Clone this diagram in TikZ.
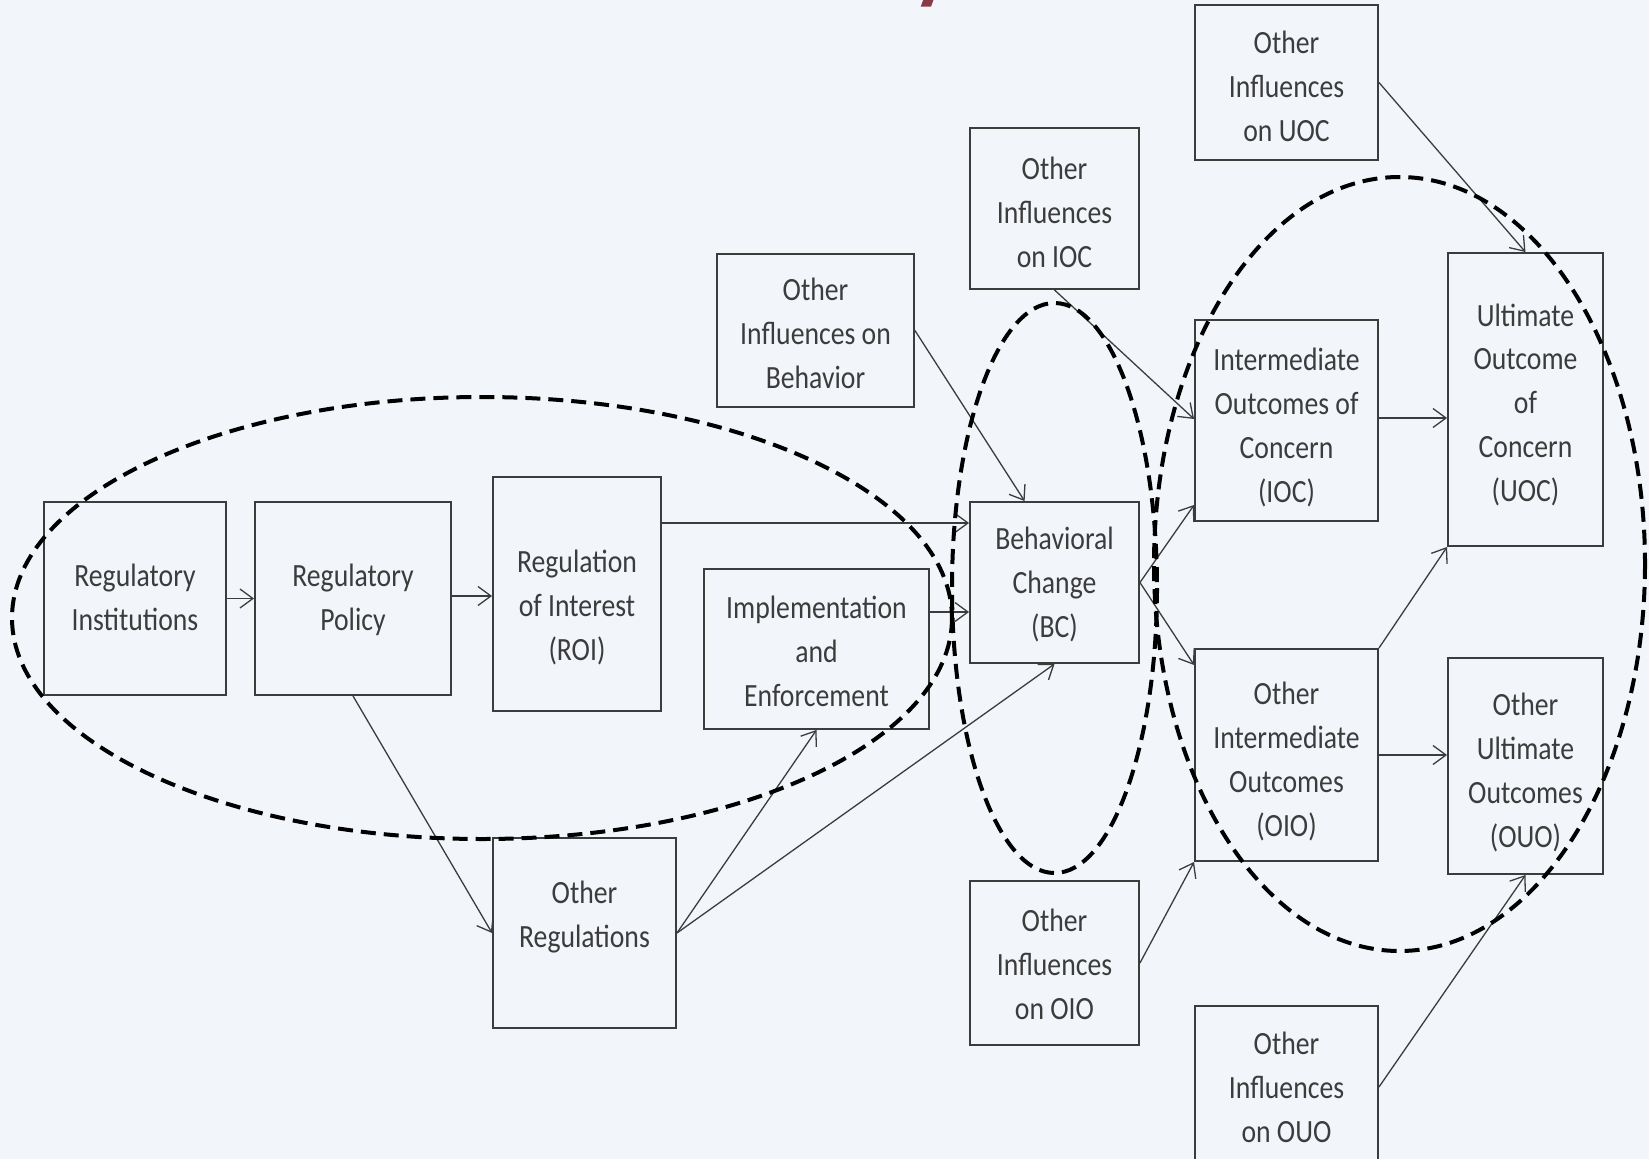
\documentclass[tikz,border=0pt]{standalone}
\usepackage{fontspec}
\setmainfont{Carlito}
\usepackage{graphicx}
\usetikzlibrary{arrows.meta,calc}
\definecolor{bg}{HTML}{F2F6FB}
\definecolor{ink}{HTML}{3C3C3C}
\definecolor{titlered}{HTML}{873A48}
\newcommand{\bxt}[2][5.5pt]{\raisebox{-#1}[\height][\depth]{\scalebox{1}[1.17]{\begin{tabular}{@{}c@{}}#2\end{tabular}}}}
\tikzset{
 box/.style={draw=ink, line width=1.9pt, rectangle, inner sep=0pt, text=ink, font=\fontsize{27.7}{37.5}\selectfont},
 conn/.style={draw=ink, line width=1.3pt, -{Straight Barb[length=13pt,width=19pt,line width=1.3pt]}},
 group/.style={draw=black, line width=4pt, dash pattern=on 15pt off 8pt},
}
\begin{document}
\begin{tikzpicture}[x=1pt,y=-1pt]
\fill[bg] (0,0) rectangle (1649,1159);
\useasboundingbox (0,0) rectangle (1649,1159);
\clip (0,0) rectangle (1649,1159);

% fragment of a cut-off title
\fill[titlered] (920.7,6.7) -- (923.5,-1) -- (933.8,-1) -- (931,6.7) -- cycle;

% boxes
\node[box, minimum width=182pt, minimum height=193pt] (ri) at (135,598.5) {\bxt[1pt]{Regulatory\\Institutions}};
\node[box, minimum width=196pt, minimum height=193pt] (rp) at (353,598.5) {\bxt[1pt]{Regulatory\\Policy}};
\node[box, minimum width=168pt, minimum height=234pt] (roi) at (577,594) {\bxt[13.5pt]{Regulation\\of Interest\\(ROI)}};
\node[box, minimum width=225pt, minimum height=160pt] (ie) at (816.5,649) {\bxt[4.5pt]{Implementation\\and\\Enforcement}};
\node[box, minimum width=197pt, minimum height=153pt] (oib) at (815.5,330.5) {\bxt{Other\\Influences on\\Behavior}};
\node[box, minimum width=169pt, minimum height=161pt] (oiioc) at (1054.5,208.5) {\bxt[6pt]{Other\\Influences\\on IOC}};
\node[box, minimum width=169pt, minimum height=161pt] (bc) at (1054.5,582.5) {\bxt[2.5pt]{Behavioral\\Change\\(BC)}};
\node[box, minimum width=183pt, minimum height=155pt] (oiuoc) at (1286.5,82.5) {\bxt[6pt]{Other\\Influences\\on UOC}};
\node[box, minimum width=183pt, minimum height=201pt] (ioc) at (1286.5,420.5) {\bxt[7pt]{Intermediate\\Outcomes of\\Concern\\(IOC)}};
\node[box, minimum width=155pt, minimum height=293pt] (uoc) at (1525.5,399.5) {\bxt{Ultimate\\Outcome\\of\\Concern\\(UOC)}};
\node[box, minimum width=183pt, minimum height=212pt] (oio) at (1286.5,755) {\bxt[6.5pt]{Other\\Intermediate\\Outcomes\\(OIO)}};
\node[box, minimum width=155pt, minimum height=216pt] (ouo) at (1525.5,766) {\bxt[7pt]{Other\\Ultimate\\Outcomes\\(OUO)}};
\node[box, minimum width=183pt, minimum height=190pt] (oreg) at (584.5,933) {\bxt{Other\\Regulations\\\strut}};
\node[box, minimum width=169pt, minimum height=164pt] (oioio) at (1054.5,963) {\bxt[4pt]{Other\\Influences\\on OIO}};
\node[box, minimum width=183pt, minimum height=162pt] (oiouo) at (1286.5,1087) {\bxt[2.5pt]{Other\\Influences\\on OUO}};

% helper levels
\coordinate (h596) at (0,596);
\coordinate (h523) at (0,523);
\coordinate (h612) at (0,612);
\coordinate (h419) at (0,419);
\coordinate (h505) at (0,505);
\coordinate (h665) at (0,665);
\coordinate (h418) at (0,418);

% connectors
\draw[conn] (ri.east) -- (rp.west);
\draw[conn] (rp.east |- h596) -- (roi.west |- h596);
\draw[conn] (roi.east |- h523) -- (bc.west |- h523);
\draw[conn] (ie.east |- h612) -- (bc.west |- h612);
\draw[conn] (oib.east) -- ($(bc.north west)!0.325!(bc.north east)$);
\draw[conn] (oiioc.south) -- (ioc.west |- h419);
\draw[conn] (bc.east) -- (ioc.west |- h505);
\draw[conn] (bc.east) -- (oio.west |- h665);
\draw[conn] (ioc.east |- h418) -- (uoc.west |- h418);
\draw[conn] (oio.north east) -- (uoc.south west);
\draw[conn] (oio.east) -- (ouo.west |- oio.east);
\draw[conn] (oiuoc.east) -- (uoc.north);
\draw[conn] (oiouo.east) -- (ouo.south);
\draw[conn] (oioio.east) -- (oio.south west);
\draw[conn] (rp.south) -- (oreg.west);
\draw[conn] (oreg.east) -- (ie.south);
\draw[conn] (oreg.east) -- (bc.south);

% dashed groupings
\draw[group] (482,618) ellipse [x radius=470, y radius=221];
\draw[group] (1054.5,588) ellipse [x radius=102.5, y radius=285];
\draw[group] (1399.5,564) ellipse [x radius=245.5, y radius=387];
\end{tikzpicture}
\end{document}
